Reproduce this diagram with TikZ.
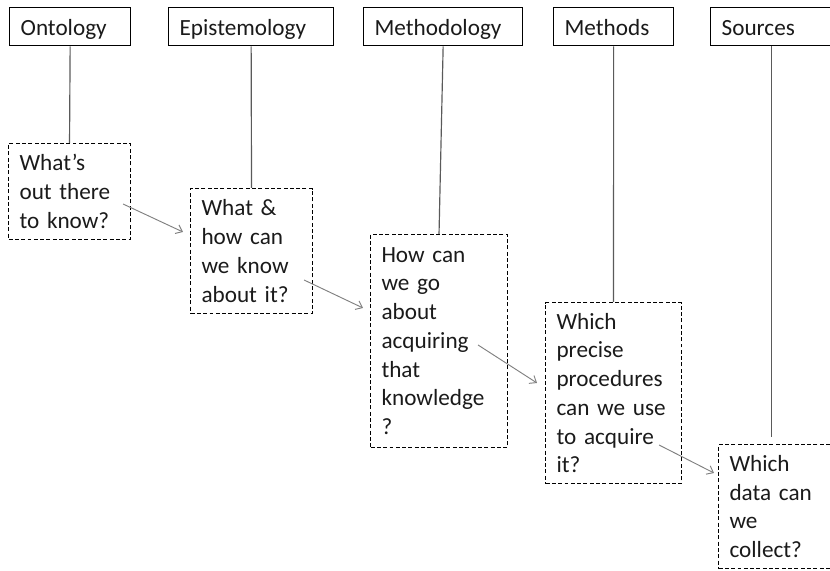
\documentclass[tikz,border=0pt]{standalone}
\usepackage{fontspec}
\setmainfont{Carlito}
\usetikzlibrary{arrows.meta}
\definecolor{inkgrey}{HTML}{1A1A1A}
\definecolor{linkgrey}{HTML}{5A5A5A}
\definecolor{flowgrey}{HTML}{808080}

\begin{document}
\begin{tikzpicture}[font=\fontsize{19.8}{24.5}\selectfont,
    hdr/.style={draw=black,line width=1.1pt,text=inkgrey,anchor=north west,
      inner xsep=0.33cm,inner ysep=0pt,minimum height=1.14cm,align=left,
      text height=0.54cm,text depth=0cm},
    ques/.style={draw=black,dash pattern=on 3.4pt off 2pt,line width=0.9pt,
      text=inkgrey,anchor=north west,inner xsep=0.33cm,inner ysep=0pt,align=left},
    link/.style={draw=linkgrey,line width=1pt},
    flow/.style={draw=flowgrey,line width=0.8pt,-{Straight Barb[length=5pt,width=8pt]}}]
    \useasboundingbox (0,0) rectangle (24.9,-17.13);

    % the five levels across the top
    \node[hdr,text width=2.97cm] (ont) at (0.27,-0.21) {Ontology};
    \node[hdr,text width=4.29cm] (epi) at (5.04,-0.21) {Epistemology};
    \node[hdr,text width=4.11cm] (mth) at (10.89,-0.21) {Methodology};
    \node[hdr,text width=2.94cm] (mtd) at (16.59,-0.21) {Methods};
    \node[hdr,text width=3.00cm] (src) at (21.30,-0.21) {Sources};

    % the question asked at each level, stepping down to the right
    \node[ques,text width=3.00cm,minimum height=2.88cm] (q1) at (0.24,-4.29)
      {What’s\\out there\\to know?};
    \node[ques,text width=3.00cm,minimum height=3.75cm] (q2) at (5.70,-5.64)
      {What \&\\how can\\we know\\about it?};
    \node[ques,text width=3.45cm,minimum height=6.39cm] (q3) at (11.10,-7.02)
      {How can\\we go\\about\\acquiring\\that\\knowledge\\?};
    \node[ques,text width=3.42cm,minimum height=5.43cm] (q4) at (16.35,-9.06)
      {Which\\precise\\procedures\\can we use\\to acquire\\it?};
    \node[ques,text width=2.76cm,minimum height=3.72cm] (q5) at (21.54,-13.32)
      {Which\\data can\\we\\collect?};

    \draw[link] (ont.south) -- (q1.north);
    \draw[link] (epi.south) -- (q2.north);
    \draw[link] (mth.south) -- (q3.north);
    \draw[link] (mtd.south) -- (q4.north);
    \draw[link,shorten >=0.21cm] (src.south) -- (src.south |- q5.north);

    % arrows run from inside one box to the left side of the next
    \coordinate (q1out) at ([shift={(-0.24,-1.83)}]q1.north east);
    \coordinate (q2in)  at ([shift={(-0.21,-1.32)}]q2.north west);
    \coordinate (q2out) at ([shift={(-0.27,-2.76)}]q2.north east);
    \coordinate (q3in)  at ([shift={(-0.21,-2.22)}]q3.north west);
    \coordinate (q3out) at ([shift={(-0.90,-3.33)}]q3.north east);
    \coordinate (q4in)  at ([shift={(-0.24,-2.43)}]q4.north west);
    \coordinate (q4out) at ([shift={(-0.69,-4.29)}]q4.north east);
    \coordinate (q5in)  at ([shift={(-0.12,-0.87)}]q5.north west);
    \draw[flow] (q1out) -- (q2in);
    \draw[flow] (q2out) -- (q3in);
    \draw[flow] (q3out) -- (q4in);
    \draw[flow] (q4out) -- (q5in);
  \end{tikzpicture}
\end{document}
